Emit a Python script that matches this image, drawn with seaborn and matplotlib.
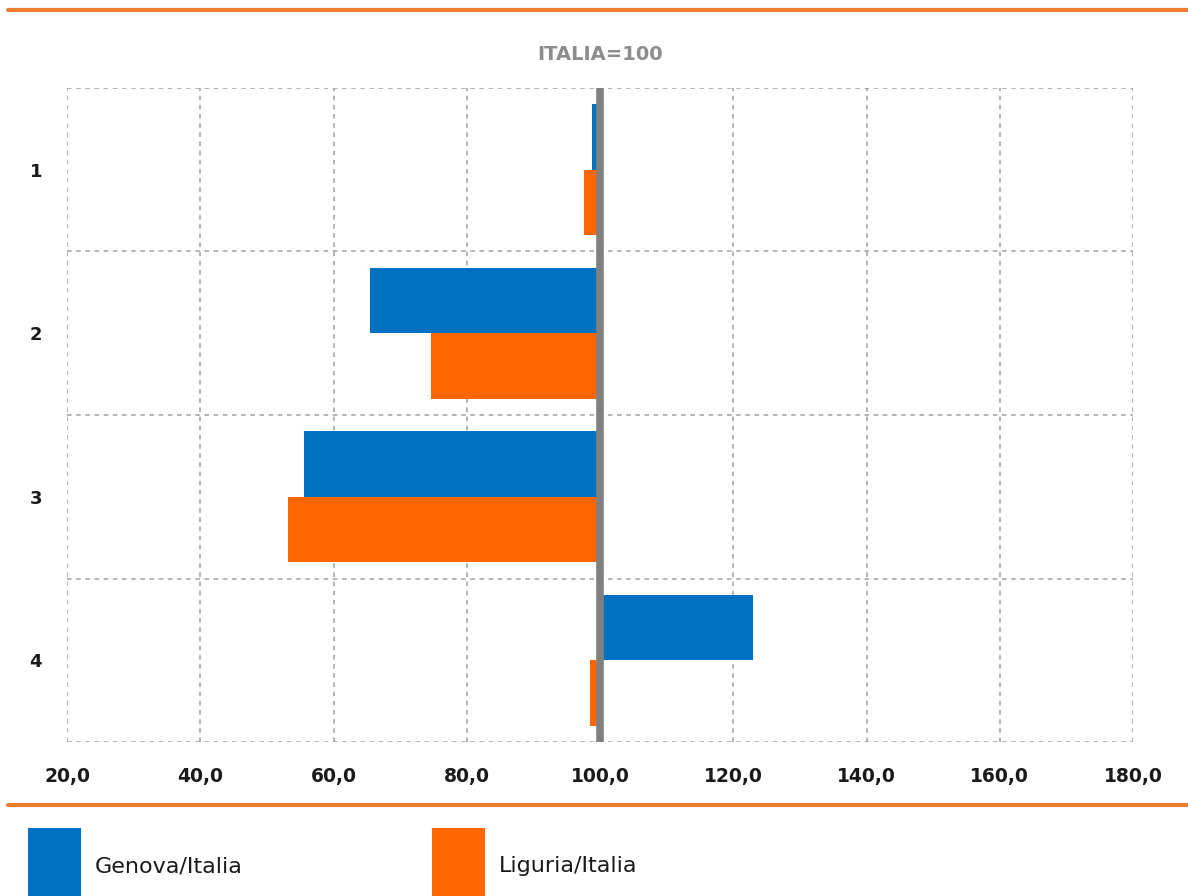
import numpy as np
import pandas as pd
import seaborn as sns
import matplotlib.pyplot as plt
from matplotlib.lines import Line2D
from matplotlib.patches import Rectangle
from matplotlib.ticker import FuncFormatter

# data (ITALIA = 100)
categories = ["1", "2", "3", "4"]
genova = [98.8, 65.5, 55.5, 122.9]
liguria = [97.6, 74.7, 53.1, 98.5]
series = ["Genova/Italia", "Liguria/Italia"]
base = 100
xticks = [20, 40, 60, 80, 100, 120, 140, 160, 180]

colors = ["#0070C0", "#FF6600"]
orange_rule = "#ED7D31"
grid_col = "#A0A0A0"

df = pd.DataFrame({
    "cat": categories * 2,
    "serie": [series[0]] * len(categories) + [series[1]] * len(categories),
    "val": genova + liguria,
})
df["delta"] = df["val"] - base

sns.set_style("white")
plt.rcParams['font.family'] = ['DejaVu Sans']

W, H = 1188, 896
fig = plt.figure(figsize=(W / 100, H / 100), dpi=100)
ax = fig.add_axes([67 / W, 1 - 742 / H, (1133 - 67) / W, (742 - 88) / H])

# bars start at 100 and run to the value
sns.barplot(data=df, y="cat", x="delta", hue="serie", order=categories,
            hue_order=series, palette=colors, orient="h", width=0.8,
            saturation=1, linewidth=0, errorbar=None, left=base,
            legend=False, ax=ax)

ax.axvline(base, color="#808080", lw=5.5, zorder=5)

ax.set_xlim(xticks[0], xticks[-1])
ax.set_ylim(len(categories) - 0.5, -0.5)
ax.set_xticks(xticks)
ax.xaxis.set_major_formatter(FuncFormatter(lambda v, p: f"{v:.1f}".replace(".", ",")))
ax.set_yticks(np.arange(-0.5, len(categories), 1.0), minor=True)
ax.grid(True, axis="x", which="major", ls=(0, (3, 3)), color=grid_col, lw=1.1)
ax.grid(True, axis="y", which="minor", ls=(0, (3, 3)), color=grid_col, lw=1.1)
ax.set_axisbelow(True)
for s in ax.spines.values():
    s.set_visible(False)
ax.tick_params(axis="both", which="both", length=0)
ax.tick_params(axis="x", pad=18)
ax.tick_params(axis="y", pad=18)
ax.set_xlabel("")
ax.set_ylabel("")
for lab in ax.get_xticklabels():
    lab.set_fontsize(13.5)
    lab.set_fontweight("bold")
    lab.set_color("#1a1a1a")
for lab in ax.get_yticklabels():
    lab.set_fontsize(13)
    lab.set_fontweight("bold")
    lab.set_color("#1a1a1a")

fig.text(600 / W, 1 - 55 / H, "ITALIA=100", ha="center", va="center",
         fontsize=14, fontweight="bold", color="#8C8C8C")

# orange rules top and bottom
for yy in (10, 805):
    fig.add_artist(Line2D([8 / W, 1], [1 - yy / H] * 2, transform=fig.transFigure,
                          color=orange_rule, lw=3))

# legend: colour squares (cut by the bottom edge) plus labels
for c, l, xpos in zip(colors, series, (28, 432)):
    fig.add_artist(Rectangle((xpos / W, 0), 53 / W, (H - 828) / H,
                             transform=fig.transFigure, color=c, lw=0))
    fig.text((xpos + 67) / W, 1 - 866 / H, l, ha="left", va="center",
             fontsize=16, color="#1a1a1a")

fig.savefig("out.png", dpi=100)
